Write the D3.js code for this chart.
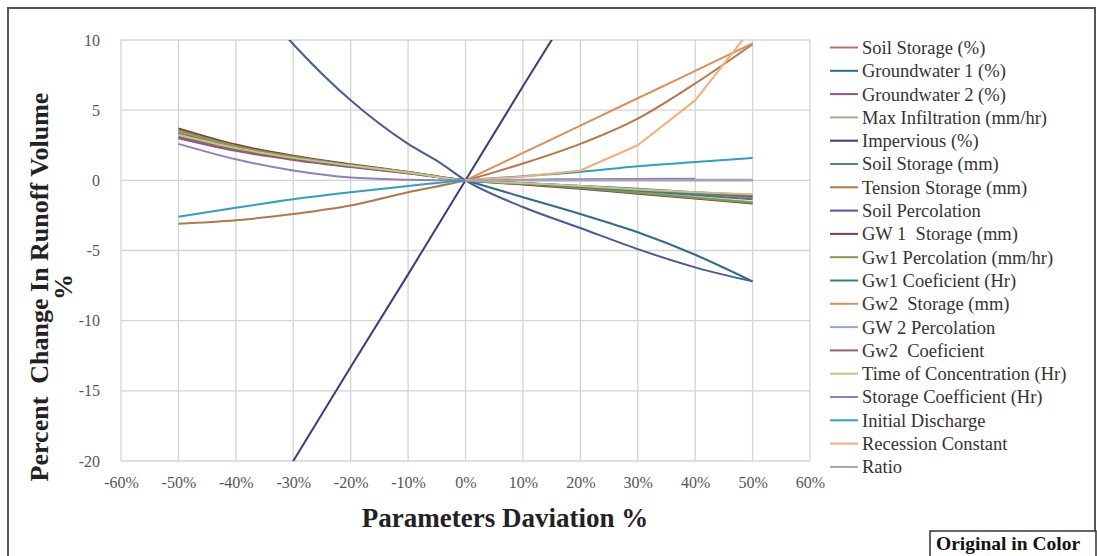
<!DOCTYPE html>
<html>
<head>
<meta charset="utf-8">
<script src="https://cdn.jsdelivr.net/npm/d3@7"></script>
<style>
  html, body { margin: 0; padding: 0; background: #fff; }
  svg { display: block; }
</style>
</head>
<body>
<svg id="chart" width="1097" height="556"></svg>
<script>
// Parameter deviation (%) at which the model was run
const deviation = [-50, -40, -30, -20, -10, -5, 0, 5, 10, 20, 30, 40, 50];

// Percent change in runoff volume for each parameter (null = not run)
const soilStoragePct      = [3.4, 2.35, 1.6, 1.05, 0.55, null, 0, null, -0.2, -0.45, -0.7, -0.95, -1.2];
const groundwater1Pct     = [null, null, null, null, null, null, 0, null, -1.2, -2.4, -3.7, -5.3, -7.2];
const groundwater2Pct     = [3.0, 2.1, 1.45, 0.95, 0.5, null, 0, null, -0.2, -0.4, -0.6, -0.85, -1.05];
const maxInfiltration     = [3.6, 2.5, 1.7, 1.1, 0.6, null, 0, null, -0.25, -0.55, -0.85, -1.2, -1.55];
const impervious          = [-33.3, -26.7, -20, -13.3, -6.7, null, 0, null, 6.7, 13.3, 20, 26.7, 33.3];
const soilStorageMm       = [null, null, null, null, null, null, 0, null, 0, 0, 0, 0, 0];
const tensionStorage      = [-3.1, -2.85, -2.4, -1.8, -0.85, null, 0, null, 1.2, 2.6, 4.4, 6.9, 9.7];
const soilPercolation     = [20, 14.5, 9.7, 5.7, 2.6, 1.4, 0, null, -1.9, -3.4, -4.9, -6.2, -7.2];
const gw1Storage          = [3.7, 2.55, 1.75, 1.15, 0.6, null, 0, null, -0.3, -0.6, -0.95, -1.3, -1.65];
const gw1Percolation      = [3.55, 2.45, 1.7, 1.1, 0.6, null, 0, null, -0.25, -0.55, -0.9, -1.25, -1.6];
const gw1Coefficient      = [3.3, 2.3, 1.6, 1.05, 0.55, null, 0, null, -0.2, -0.45, -0.75, -1.05, -1.35];
const gw2Storage          = [null, null, null, null, null, null, 0, null, 1.95, 3.9, 5.85, 7.8, 9.75];
const gw2Percolation      = [null, null, null, null, null, null, 0, null, 0.02, 0.03, 0.04, 0.05, 0.05];
const gw2Coefficient      = [3.1, 2.2, 1.5, 1.0, 0.5, null, 0, null, -0.2, -0.4, -0.65, -0.9, -1.15];
const timeOfConcentration = [3.25, 2.3, 1.6, 1.05, 0.55, null, 0, null, -0.2, -0.4, -0.65, -0.85, -1.0];
const storageCoefficient  = [2.6, 1.5, 0.7, 0.2, 0.05, null, 0, null, 0.05, 0.08, 0.1, 0.12, null];
const initialDischarge    = [-2.6, -1.95, -1.35, -0.85, -0.4, null, 0, null, 0.3, 0.6, 1.0, 1.3, 1.6];
const recessionConstant   = [null, null, null, null, null, null, 0, null, 0.25, 0.7, 2.5, 5.7, 10.9];
const ratio               = [null, null, null, null, null, null, 0, null, 0, 0, 0, 0, 0];

const seriesNames = [
  "Soil Storage (%)", "Groundwater 1 (%)", "Groundwater 2 (%)", "Max Infiltration (mm/hr)",
  "Impervious (%)", "Soil Storage (mm)", "Tension Storage (mm)", "Soil Percolation",
  "GW 1  Storage (mm)", "Gw1 Percolation (mm/hr)", "Gw1 Coeficient (Hr)", "Gw2  Storage (mm)",
  "GW 2 Percolation", "Gw2  Coeficient", "Time of Concentration (Hr)", "Storage Coefficient (Hr)",
  "Initial Discharge", "Recession Constant", "Ratio"
];
const seriesValues = [
  soilStoragePct, groundwater1Pct, groundwater2Pct, maxInfiltration, impervious, soilStorageMm,
  tensionStorage, soilPercolation, gw1Storage, gw1Percolation, gw1Coefficient, gw2Storage,
  gw2Percolation, gw2Coefficient, timeOfConcentration, storageCoefficient, initialDischarge,
  recessionConstant, ratio
];
const seriesColors = [
  "#c0706c", "#2f6d8c", "#8a5a7c", "#a2ab8c", "#3b3b7e", "#55809a", "#b5764a", "#4a5c94",
  "#943240", "#7e9c48", "#2f8585", "#d8915a", "#9aa6cf", "#a05a6c", "#b9c98a", "#8f80bd",
  "#2fa0c0", "#f5ad7c", "#a6a6b4"
];
// Series drawn with straight segments rather than smoothed curves
const straightSeries = ["Recession Constant", "Impervious (%)"];

const xTicks = [-60, -50, -40, -30, -20, -10, 0, 10, 20, 30, 40, 50, 60];
const yTicks = [-20, -15, -10, -5, 0, 5, 10];

const svg = d3.select("#chart");
const W = 1097, H = 556;
const plot = { left: 121, right: 810, top: 40, bottom: 461 };
const serif = "Liberation Serif, Times New Roman, serif";

const x = d3.scaleLinear().domain([-60, 60]).range([plot.left, plot.right]);
const y = d3.scaleLinear().domain([-20, 10]).range([plot.bottom, plot.top]);

// Outer frame
svg.append("rect")
  .attr("x", 8).attr("y", 8).attr("width", W - 10).attr("height", H - 6)
  .attr("fill", "#fff").attr("stroke", "#555").attr("stroke-width", 2);

// Gridlines
const grid = svg.append("g");
grid.selectAll("line.v").data(xTicks).join("line")
  .attr("x1", d => x(d)).attr("x2", d => x(d))
  .attr("y1", plot.top).attr("y2", plot.bottom)
  .attr("stroke", "#d4d4d4").attr("stroke-width", 1.3);
grid.selectAll("line.h").data(yTicks).join("line")
  .attr("x1", plot.left).attr("x2", plot.right)
  .attr("y1", d => y(d)).attr("y2", d => y(d))
  .attr("stroke", "#d4d4d4").attr("stroke-width", 1.3);

// Axes (labels only)
const xAxis = d3.axisBottom(x).tickValues(xTicks).tickSize(0).tickPadding(16)
  .tickFormat(d => (d < 0 ? "-" + Math.abs(d) : d) + "%");
svg.append("g").attr("transform", `translate(0,${plot.bottom})`).call(xAxis)
  .call(g => g.select(".domain").remove())
  .selectAll("text")
  .attr("font-family", serif)
  .attr("font-size", 16).attr("fill", "#555");

const yAxis = d3.axisLeft(y).tickValues(yTicks).tickSize(0).tickPadding(21)
  .tickFormat(d => (d < 0 ? "-" + Math.abs(d) : String(d)));
svg.append("g").attr("transform", `translate(${plot.left},0)`).call(yAxis)
  .call(g => g.select(".domain").remove())
  .selectAll("text")
  .attr("font-family", serif)
  .attr("font-size", 16).attr("fill", "#555");

// Series lines, clipped to the plot area
svg.append("clipPath").attr("id", "plotClip").append("rect")
  .attr("x", plot.left).attr("y", plot.top)
  .attr("width", plot.right - plot.left).attr("height", plot.bottom - plot.top);

const smoothLine = d3.line().x(d => x(d[0])).y(d => y(d[1])).curve(d3.curveMonotoneX);
const straightLine = d3.line().x(d => x(d[0])).y(d => y(d[1]));
const linesG = svg.append("g").attr("clip-path", "url(#plotClip)");
seriesValues.forEach((vals, i) => {
  const pts = deviation.map((d, j) => [d, vals[j]]).filter(p => p[1] !== null);
  const gen = straightSeries.includes(seriesNames[i]) ? straightLine : smoothLine;
  linesG.append("path")
    .attr("d", gen(pts))
    .attr("fill", "none")
    .attr("stroke", seriesColors[i])
    .attr("stroke-width", 2)
    .attr("stroke-linejoin", "round");
});

// Legend
const legend = svg.append("g");
seriesNames.forEach((name, i) => {
  const ly = 47.5 + i * 23.3;
  legend.append("line")
    .attr("x1", 830).attr("x2", 858).attr("y1", ly).attr("y2", ly)
    .attr("stroke", seriesColors[i]).attr("stroke-width", 2);
  legend.append("text")
    .attr("x", 862).attr("y", ly).attr("dy", "0.35em")
    .attr("font-family", serif)
    .attr("font-size", 18.5).attr("fill", "#333")
    .attr("xml:space", "preserve")
    .text(name);
});

// Axis titles
svg.append("text")
  .attr("x", 505).attr("y", 527)
  .attr("text-anchor", "middle")
  .attr("font-family", serif)
  .attr("font-weight", "bold").attr("font-size", 27).attr("fill", "#222")
  .text("Parameters Daviation %");

const yTitle = svg.append("text")
  .attr("transform", "translate(48,287) rotate(-90)")
  .attr("text-anchor", "middle")
  .attr("font-family", serif)
  .attr("font-weight", "bold").attr("font-size", 26).attr("fill", "#222")
  .attr("xml:space", "preserve");
yTitle.append("tspan").attr("x", 0).attr("dy", 0).text("Percent  Change In Runoff Volume");
yTitle.append("tspan").attr("x", 0).attr("dy", 24).text("%");

// Note box in the corner
svg.append("rect")
  .attr("x", 930).attr("y", 531).attr("width", 166).attr("height", 30)
  .attr("fill", "#fff").attr("stroke", "#333").attr("stroke-width", 1.5);
svg.append("text")
  .attr("x", 936).attr("y", 550)
  .attr("font-family", serif)
  .attr("font-weight", "bold").attr("font-size", 19.5).attr("fill", "#111")
  .text("Original in Color");
</script>
</body>
</html>
